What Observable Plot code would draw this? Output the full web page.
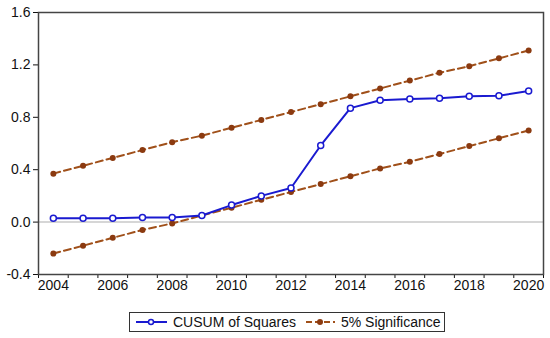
<!DOCTYPE html>
<html>
<head>
<meta charset="utf-8">
<script src="https://cdn.jsdelivr.net/npm/d3@7"></script>
<script src="https://cdn.jsdelivr.net/npm/@observablehq/plot@0.6"></script>
<style>
  html, body { margin: 0; padding: 0; background: #fff; }
  #chart { width: 550px; height: 338px; position: relative; font-family: "Liberation Sans", Arial, sans-serif; }
  #legend { position: absolute; left: 129px; top: 312px; width: 316px; height: 20px; border: 1px solid #333;
    display: flex; align-items: center; font-size: 14px; color: #111; box-sizing: border-box; }
  .item { display: flex; align-items: center; margin-left: 5px; }
  .item svg { margin-right: 5px; }
</style>
</head>
<body>
<div id="chart"></div>
<script>
const years = [2004,2005,2006,2007,2008,2009,2010,2011,2012,2013,2014,2015,2016,2017,2018,2019,2020];
const cusumSq = [0.03,0.03,0.03,0.035,0.035,0.05,0.13,0.20,0.26,0.585,0.87,0.93,0.94,0.945,0.96,0.965,1.0];
const upper = [0.37,0.43,0.49,0.55,0.61,0.66,0.72,0.78,0.84,0.90,0.96,1.02,1.08,1.14,1.19,1.25,1.31];
const lower = [-0.24,-0.18,-0.12,-0.06,-0.01,0.05,0.11,0.17,0.23,0.29,0.35,0.41,0.46,0.52,0.58,0.64,0.70];
const yTicks = [-0.4,0.0,0.4,0.8,1.2,1.6];
const xLabels = [2004,2006,2008,2010,2012,2014,2016,2018,2020];
const seriesNames = ["CUSUM of Squares","5% Significance"];

const blue = "#1a1ad0";
const brown = "#a0501a";
const brownDot = "#8b3a10";

const rows = years.map((y,i) => ({year: y, cusum: cusumSq[i], upper: upper[i], lower: lower[i]}));
const boundaries = d3.range(years[0] - 0.5, years[years.length-1] + 1, 1);

const plot = Plot.plot({
  width: 550,
  height: 300,
  marginTop: 12,
  marginLeft: 38,
  marginRight: 7,
  marginBottom: 26,
  style: {fontFamily: "'Liberation Sans', Arial, sans-serif", fontSize: "14px", color: "#111"},
  x: {type: "linear", domain: [years[0]-0.5, years[years.length-1]+0.5]},
  y: {domain: [-0.4, 1.6]},
  marks: [
    Plot.ruleY([0], {stroke: "#c8c8c8", strokeWidth: 1.5}),
    Plot.line(rows, {x: "year", y: "upper", stroke: brown, strokeWidth: 2, strokeDasharray: "7,4"}),
    Plot.line(rows, {x: "year", y: "lower", stroke: brown, strokeWidth: 2, strokeDasharray: "7,4"}),
    Plot.dot(rows, {x: "year", y: "upper", fill: brownDot, r: 3}),
    Plot.dot(rows, {x: "year", y: "lower", fill: brownDot, r: 3}),
    Plot.line(rows, {x: "year", y: "cusum", stroke: blue, strokeWidth: 2}),
    Plot.dot(rows, {x: "year", y: "cusum", fill: "white", stroke: blue, strokeWidth: 1.5, r: 3}),
    Plot.axisY(yTicks, {tickSize: 5, tickPadding: 3, tickFormat: d => d.toFixed(1), label: null, fontSize: 14}),
    Plot.axisX(boundaries, {tickSize: 4, tickFormat: () => "", label: null}),
    Plot.axisX(xLabels, {tickSize: 0, tickPadding: 6, tickFormat: d => String(d), label: null, fontSize: 14}),
    Plot.frame({stroke: "#444", strokeWidth: 1.5})
  ]
});
const chart = document.getElementById("chart");
chart.appendChild(plot);

const legend = document.createElement("div");
legend.id = "legend";
legend.innerHTML = `
  <div class="item"><svg width="33" height="10"><line x1="1" y1="5" x2="32" y2="5" stroke="${blue}" stroke-width="2"/><circle cx="16" cy="5" r="2.5" fill="white" stroke="${blue}" stroke-width="1.5"/></svg>${seriesNames[0]}</div>
  <div class="item" style="margin-left:9px"><svg width="31" height="10"><line x1="1" y1="5" x2="30" y2="5" stroke="${brown}" stroke-width="2" stroke-dasharray="6,3"/><circle cx="15" cy="5" r="3" fill="${brownDot}"/></svg>${seriesNames[1]}</div>`;
chart.appendChild(legend);
</script>
</body>
</html>
